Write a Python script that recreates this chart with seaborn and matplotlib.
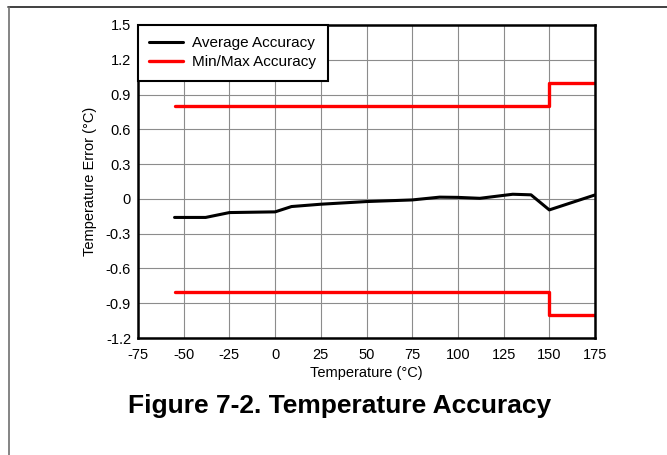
import matplotlib
matplotlib.use('Agg')
import matplotlib.pyplot as plt
import pandas as pd
import seaborn as sns
from matplotlib.lines import Line2D

# Datos
temp_avg = [-55, -38, -25, 0, 9, 25, 50, 75, 90, 100, 112, 130, 140, 150, 175]
err_avg = [-0.16, -0.16, -0.118, -0.112, -0.066, -0.046, -0.023, -0.009,
           0.015, 0.013, 0.005, 0.04, 0.035, -0.095, 0.034]

temp_lim = [-55, 150, 150, 175]
err_max = [0.8, 0.8, 1.0, 1.0]
err_min = [-0.8, -0.8, -1.0, -1.0]

x_ticks = [-75, -50, -25, 0, 25, 50, 75, 100, 125, 150, 175]
y_ticks = [-1.2, -0.9, -0.6, -0.3, 0, 0.3, 0.6, 0.9, 1.2, 1.5]
y_tick_labels = ['-1.2', '-0.9', '-0.6', '-0.3', '0', '0.3', '0.6', '0.9', '1.2', '1.5']

sns.set_style('white')
plt.rcParams['font.family'] = ['Liberation Sans', 'DejaVu Sans']
plt.rcParams['axes.unicode_minus'] = False
plt.rcParams['text.color'] = 'black'
plt.rcParams['axes.labelcolor'] = 'black'
plt.rcParams['xtick.color'] = 'black'
plt.rcParams['ytick.color'] = 'black'

df_avg = pd.DataFrame({'temp': temp_avg, 'err': err_avg})
df_max = pd.DataFrame({'temp': temp_lim, 'err': err_max})
df_min = pd.DataFrame({'temp': temp_lim, 'err': err_min})

fig = plt.figure(figsize=(6.67, 4.55), dpi=100)
ax = fig.add_axes([138 / 667, 1 - 338 / 455, 457 / 667, 313 / 455])

sns.lineplot(data=df_avg, x='temp', y='err', ax=ax, color='black',
             linewidth=2.2, sort=False, estimator=None, label='Average Accuracy')
sns.lineplot(data=df_max, x='temp', y='err', ax=ax, color='#ff0000',
             linewidth=2.4, sort=False, estimator=None, label='Min/Max Accuracy')
sns.lineplot(data=df_min, x='temp', y='err', ax=ax, color='#ff0000',
             linewidth=2.4, sort=False, estimator=None)

ax.set_xlim(-75, 175)
ax.set_ylim(-1.2, 1.5)
ax.set_xticks(x_ticks)
ax.set_xticklabels([str(t) for t in x_ticks])
ax.set_yticks(y_ticks)
ax.set_yticklabels(y_tick_labels)
ax.tick_params(length=0, labelsize=10.5)
ax.tick_params(axis='x', pad=7)
ax.tick_params(axis='y', pad=5)
ax.grid(True, color='#8c8c8c', linewidth=0.8)
for s in ax.spines.values():
    s.set_color('black')
    s.set_linewidth(1.8)

ax.set_xlabel('Temperature (°C)', fontsize=10.5, labelpad=3)
ax.set_ylabel('Temperature Error (°C)', fontsize=10.5, labelpad=6)

leg = ax.legend(loc='upper left', fontsize=11, frameon=True, fancybox=False,
                borderaxespad=0, handlelength=2.2, labelspacing=0.3,
                borderpad=0.75, handletextpad=0.6)
leg.get_frame().set_edgecolor('black')
leg.get_frame().set_linewidth(1.5)
leg.get_frame().set_alpha(1)

fig.text(340 / 667, 1 - 406 / 455, 'Figure 7-2. Temperature Accuracy',
         ha='center', va='center', fontsize=19, fontweight='bold')

# Borde de la página
fig.add_artist(Line2D([8 / 667, 1], [1 - 7 / 455, 1 - 7 / 455],
                      transform=fig.transFigure, color='#202020', linewidth=1.2))
fig.add_artist(Line2D([8.5 / 667, 8.5 / 667], [0, 1 - 7 / 455],
                      transform=fig.transFigure, color='#707070', linewidth=1.2))

fig.savefig('out.png', dpi=100)
